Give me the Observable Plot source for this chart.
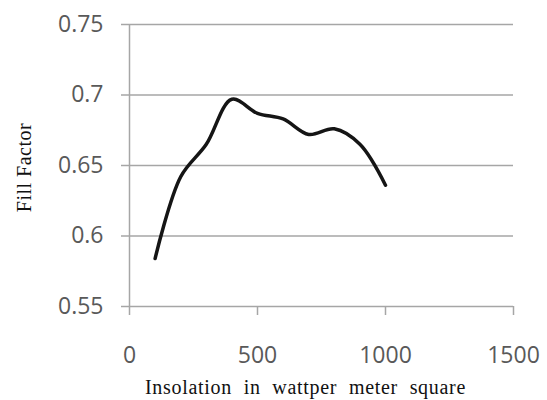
<!DOCTYPE html>
<html>
<head>
<meta charset="utf-8">
<script src="https://cdn.jsdelivr.net/npm/d3@7"></script>
<script src="https://cdn.jsdelivr.net/npm/@observablehq/plot@0.6"></script>
<style>
  html, body { margin: 0; padding: 0; background: #fff; }
</style>
</head>
<body>
<div id="chart"></div>
<script>
const insolation = [100, 200, 300, 400, 500, 600, 700, 800, 900, 1000];
const fillFactor = [0.584, 0.642, 0.665, 0.697, 0.687, 0.683, 0.672, 0.676, 0.665, 0.636];
const xTicks = [0, 500, 1000, 1500];
const yTicks = [0.55, 0.6, 0.65, 0.7, 0.75];
const yTickLabels = ["0.55", "0.6", "0.65", "0.7", "0.75"];
const xTitle = "Insolation in wattper meter square";
const yTitle = "Fill Factor";

const data = insolation.map((x, i) => ({x, y: fillFactor[i]}));
const gridColor = "#a6a6a6";

const chart = Plot.plot({
  width: 547,
  height: 400,
  marginLeft: 129,
  marginRight: 34,
  marginTop: 24,
  marginBottom: 94,
  style: {fontFamily: "'Open Sans', sans-serif", fontSize: "23px", color: "#595959", background: "#fff"},
  x: {domain: [0, 1500]},
  y: {domain: [0.55, 0.75]},
  marks: [
    Plot.gridY(yTicks, {stroke: gridColor, strokeOpacity: 1, strokeWidth: 1.5}),
    Plot.axisY({ticks: yTicks, tickSize: 8, tickPadding: 18, stroke: gridColor, strokeWidth: 1.5,
      tickFormat: d => yTickLabels[yTicks.indexOf(d)], label: null, fill: "#595959"}),
    Plot.ruleX([0], {stroke: gridColor, strokeWidth: 1.5}),
    Plot.axisX({ticks: xTicks, tickSize: 9, tickPadding: 31, stroke: gridColor, strokeWidth: 1.5,
      tickFormat: d => String(d), label: null, fill: "#595959"}),
    Plot.line(data, {x: "x", y: "y", curve: "catmull-rom", stroke: "#151515", strokeWidth: 3.5}),
    Plot.text([xTitle], {frameAnchor: "bottom", textAnchor: "middle", lineAnchor: "middle", dx: -16, dy: 81,
      fontFamily: "'Liberation Serif', 'Times New Roman', serif", fontSize: 20, fill: "#111", text: d => d}),
    Plot.text([yTitle], {frameAnchor: "left", textAnchor: "middle", lineAnchor: "middle", dx: -105, dy: 2, rotate: -90,
      fontFamily: "'Liberation Serif', 'Times New Roman', serif", fontSize: 20, fill: "#111", text: d => d})
  ]
});
chart.querySelectorAll("text").forEach(t => {
  if (t.textContent === xTitle) { t.setAttribute("letter-spacing", "0.7"); t.setAttribute("word-spacing", "6"); }
  if (t.textContent === yTitle) { t.setAttribute("letter-spacing", "0.5"); }
});
document.getElementById("chart").append(chart);
</script>
</body>
</html>
